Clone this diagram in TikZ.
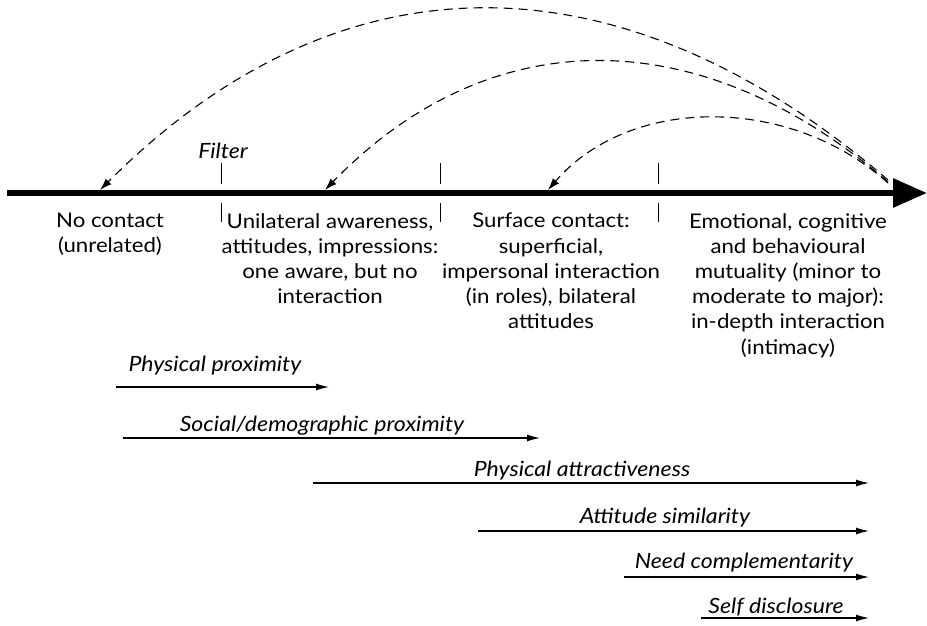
\documentclass[tikz,border=0pt]{standalone}
\usepackage{fontspec}
\setmainfont{Lato}[FakeStretch=1.1]
\usetikzlibrary{arrows.meta}

\tikzset{
  stage/.style={font=\fontsize{20.2}{25.2}\selectfont, align=center, inner sep=0pt, anchor=north},
  factorlabel/.style={font=\fontsize{21}{24}\selectfont\itshape, inner sep=0pt, anchor=base},
  axis/.style={line width=6pt, -{Triangle[length=34pt,width=28pt]}},
  tick/.style={line width=0.9pt},
  feedback/.style={line width=1.1pt, dash pattern=on 9pt off 6pt, -{Latex[length=12pt,width=8pt]}},
  factor/.style={line width=1.2pt, -{Latex[length=13pt,width=7pt]}}
}

\begin{document}
\begin{tikzpicture}[x=1pt,y=-1pt]
\useasboundingbox (0,0) rectangle (927,626);

% main continuum
\coordinate (axl) at (7,193);
\coordinate (axr) at (927,193);
\draw[axis] (axl) -- (axr);

% stage boundaries
\foreach \x/\n in {221/a,440/b,658/c}{
  \coordinate (t\n1) at (\x,163);
  \coordinate (t\n2) at (\x,184);
  \coordinate (t\n3) at (\x,203);
  \coordinate (t\n4) at (\x,222);
  \draw[tick] (t\n1) -- (t\n2);
  \draw[tick] (t\n3) -- (t\n4);
}
\node[factorlabel] (filter) at (223,158) {Filter};

% stages
\node[stage] (s0) at (110,213) {No contact\\(unrelated)};
\node[stage] (s1) at (330,213) {Unilateral awareness,\\attitudes, impressions:\\one aware, but no\\interaction};
\node[stage] (s2) at (551,213) {Surface contact:\\superficial,\\impersonal interaction\\(in roles), bilateral\\attitudes};
\node[stage] (s3) at (788,213) {Emotional, cognitive\\and behavioural\\mutuality (minor to\\moderate to major):\\in-depth interaction\\(intimacy)};

% feedback arcs from the end of the continuum
\coordinate (f1) at (888,180);
\coordinate (f2) at (888,182);
\coordinate (f3) at (888,183);
\coordinate (e1) at (100,190);
\coordinate (e2) at (325,190);
\coordinate (e3) at (548,190);
\draw[feedback] (f1) .. controls (620,-50) and (340,-50) .. (e1);
\draw[feedback] (f2) .. controls (700,20) and (490,20) .. (e2);
\draw[feedback] (f3) .. controls (790,95) and (630,95) .. (e3);

% attraction factors
\coordinate (p1a) at (116,387); \coordinate (p1b) at (329,387);
\coordinate (p2a) at (123,438); \coordinate (p2b) at (540,438);
\coordinate (p3a) at (313,483); \coordinate (p3b) at (869,483);
\coordinate (p4a) at (478,531); \coordinate (p4b) at (869,531);
\coordinate (p5a) at (624,577); \coordinate (p5b) at (869,577);
\coordinate (p6a) at (701,618); \coordinate (p6b) at (869,618);
\draw[factor] (p1a) -- (p1b);
\draw[factor] (p2a) -- (p2b);
\draw[factor] (p3a) -- (p3b);
\draw[factor] (p4a) -- (p4b);
\draw[factor] (p5a) -- (p5b);
\draw[factor] (p6a) -- (p6b);

\node[factorlabel] (l1) at (215,371) {Physical proximity};
\node[factorlabel] (l2) at (322,431) {Social/demographic proximity};
\node[factorlabel] (l3) at (582,476) {Physical attractiveness};
\node[factorlabel] (l4) at (665,523) {Attitude similarity};
\node[factorlabel] (l5) at (744,568) {Need complementarity};
\node[factorlabel] (l6) at (776,613) {Self disclosure};
\end{tikzpicture}
\end{document}
